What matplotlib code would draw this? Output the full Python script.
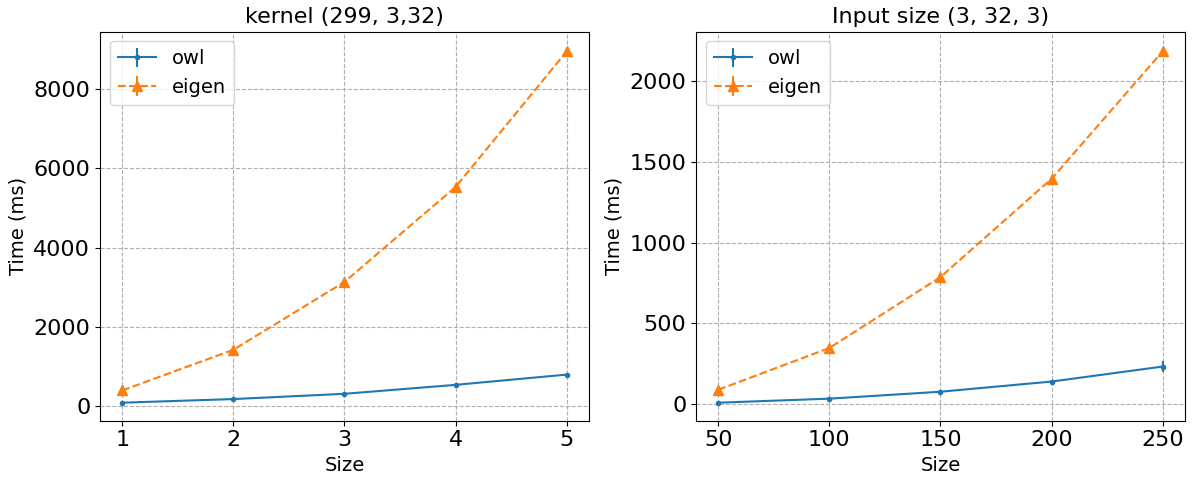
import matplotlib
matplotlib.use("Agg")
import matplotlib.pyplot as plt

# left: kernel size sweep
kernel_sizes = [1, 2, 3, 4, 5]
kernel_owl = [84, 176, 309, 535, 794]
kernel_owl_err = [8, 10, 12, 15, 20]
kernel_eigen = [393, 1421, 3135, 5534, 8961]
kernel_eigen_err = [10, 20, 30, 40, 50]

# right: input size sweep
input_sizes = [50, 100, 150, 200, 250]
input_owl = [8, 33, 76, 139, 232]
input_owl_err = [2, 3, 5, 8, 33]
input_eigen = [88, 347, 786, 1395, 2185]
input_eigen_err = [3, 5, 8, 10, 12]


def draw(ax, x, owl, owl_err, eigen, eigen_err, title):
	ax.errorbar(x, owl, yerr=owl_err, marker=".", linestyle="-", label="owl")
	ax.errorbar(x, eigen, yerr=eigen_err, marker="^", markersize=7, linestyle="--", label="eigen")
	ax.set_title(title, fontsize=16)
	ax.set_xlabel("Size", fontsize=14)
	ax.set_ylabel("Time (ms)", fontsize=14)
	ax.set_xticks(x)
	ax.tick_params(labelsize=16)
	ax.grid(linestyle="--", color="#b0b0b0")
	ax.legend(fontsize=14, loc="upper left")


fig, (ax1, ax2) = plt.subplots(1, 2, figsize=(11.95, 4.79), dpi=100)
draw(ax1, kernel_sizes, kernel_owl, kernel_owl_err, kernel_eigen, kernel_eigen_err, "kernel (299, 3,32)")
draw(ax2, input_sizes, input_owl, input_owl_err, input_eigen, input_eigen_err, "Input size (3, 32, 3)")
ax1.set_yticks([0, 2000, 4000, 6000, 8000])
ax2.set_yticks([0, 500, 1000, 1500, 2000])

fig.subplots_adjust(left=0.0837, right=0.9916, bottom=0.1217, top=0.934, wspace=0.219)
fig.savefig("out.png", dpi=100)
